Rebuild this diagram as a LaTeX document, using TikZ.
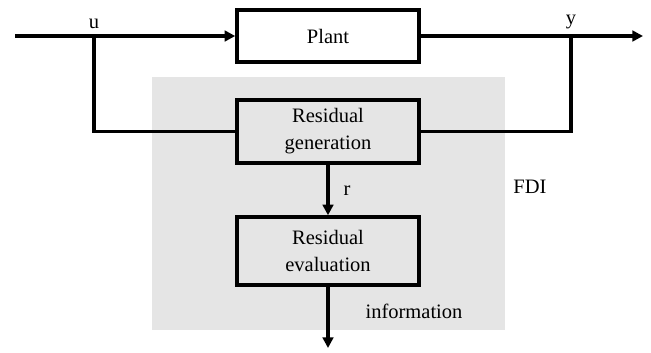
\documentclass[tikz,border=0pt]{standalone}
\usepackage{fontspec}
\setmainfont{Liberation Serif}
\usetikzlibrary{arrows.meta}
\begin{document}
\begin{tikzpicture}[
        x=0.03cm, y=-0.03cm,
        font=\fontsize{17.5}{23}\selectfont,
        box/.style={draw, rectangle, align=center, minimum width=5.46cm, line width=3pt},
        line/.style={line width=3pt},
        arrow/.style={line width=3pt, -{Triangle[length=9pt,width=9pt]}},
        lbl/.style={anchor=base, inner sep=0pt}
    ]
        \useasboundingbox (0,0) rectangle (651,352);

        % FDI area
        \node[fill=black!10, minimum width=10.59cm, minimum height=7.59cm, inner sep=0pt] (fdi) at (328.5,203.5) {};
        \node[lbl] (fdilabel) at (530,193) {FDI};

        % Blocks
        \node[box, fill=white, minimum height=1.56cm] (plant) at (328,36) {Plant};
        \node[box, minimum height=1.89cm] (resgen) at (328,131.5) {Residual\\generation};
        \node[box, minimum height=2.04cm] (reseval) at (328,251) {Residual\\evaluation};

        % Signal points
        \coordinate (in) at (15,36);
        \coordinate (out) at (643,36);
        \coordinate (ubr) at (94,36);
        \coordinate (ybr) at (571,36);
        \coordinate (info) at (328,348);

        \node[lbl] (ulabel) at (94,28) {u};
        \node[lbl] (ylabel) at (571,24.5) {y};
        \node[lbl] (rlabel) at (347,195) {r};
        \node[lbl] (infolabel) at (414,318) {information};

        % Paths
        \draw[arrow] (in) -- (plant.west);
        \draw[arrow] (plant.east) -- (out);
        \draw[line] (ubr) |- (resgen.west);
        \draw[line] (ybr) |- (resgen.east);
        \draw[arrow] (resgen.south) -- (reseval.north);
        \draw[arrow] (reseval.south) -- (info);

    \end{tikzpicture}
\end{document}
